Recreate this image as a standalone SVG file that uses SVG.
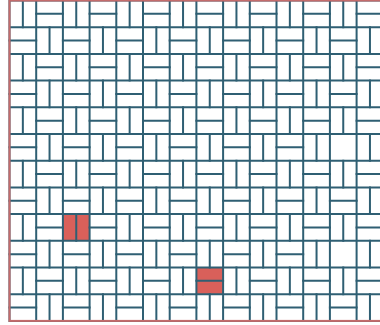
<svg xmlns="http://www.w3.org/2000/svg" width="380" height="325" viewBox="0 0 380 325">
<style>
.ln{fill:none;stroke:#2f5f73;stroke-width:2;vector-effect:non-scaling-stroke;stroke-linecap:square}
.hl{fill:#d9605a;stroke:none}
.border{fill:none;stroke:#c46b6b;stroke-width:2}
</style>
<rect width="380" height="325" fill="#ffffff"/>
<g id="weave" transform="translate(9.5 0.5) scale(13.35)">
<g id="highlights">
<rect class="hl" x="4" y="16" width="2" height="2"/>
<rect class="hl" x="14" y="20" width="2" height="2"/>
</g>
<g id="grid">
<path class="ln" d="M0 0H28M0 2H28M0 4H28M0 6H28M0 8H28M0 10H28M0 12H28M0 14H28M0 16H28M0 18H28M0 20H28M0 22H28M0 24H28M0 0V24M2 0V24M4 0V24M6 0V24M8 0V24M10 0V24M12 0V24M14 0V24M16 0V24M18 0V24M20 0V24M22 0V24M24 0V24M26 0V24M28 0V24"/>
</g>
<g id="dividers">
<path class="ln" d="M1 0v2M5 0v2M9 0v2M13 0v2M17 0v2M21 0v2M25 0v2M2 1h2M6 1h2M10 1h2M14 1h2M18 1h2M22 1h2M26 1h2
M3 2v2M7 2v2M11 2v2M15 2v2M19 2v2M23 2v2M27 2v2M0 3h2M4 3h2M8 3h2M12 3h2M16 3h2M20 3h2M24 3h2
M1 4v2M5 4v2M9 4v2M13 4v2M17 4v2M21 4v2M25 4v2M2 5h2M6 5h2M10 5h2M14 5h2M18 5h2M22 5h2M26 5h2
M3 6v2M7 6v2M11 6v2M15 6v2M19 6v2M23 6v2M27 6v2M0 7h2M4 7h2M8 7h2M12 7h2M16 7h2M20 7h2M24 7h2
M1 8v2M5 8v2M9 8v2M13 8v2M17 8v2M21 8v2M25 8v2M2 9h2M6 9h2M10 9h2M14 9h2M18 9h2M22 9h2M26 9h2
M3 10v2M7 10v2M11 10v2M15 10v2M19 10v2M23 10v2M27 10v2M0 11h2M4 11h2M8 11h2M12 11h2M16 11h2M20 11h2
M1 12v2M5 12v2M9 12v2M13 12v2M17 12v2M21 12v2M25 12v2M2 13h2M6 13h2M10 13h2M14 13h2M18 13h2M22 13h2M26 13h2
M3 14v2M7 14v2M11 14v2M15 14v2M19 14v2M23 14v2M27 14v2M0 15h2M4 15h2M8 15h2M12 15h2M16 15h2M20 15h2M24 15h2
M1 16v2M5 16v2M9 16v2M13 16v2M17 16v2M21 16v2M25 16v2M2 17h2M6 17h2M10 17h2M14 17h2M18 17h2M22 17h2M26 17h2
M3 18v2M7 18v2M11 18v2M15 18v2M19 18v2M23 18v2M27 18v2M0 19h2M4 19h2M8 19h2M12 19h2M16 19h2M20 19h2
M1 20v2M5 20v2M9 20v2M13 20v2M17 20v2M21 20v2M25 20v2M2 21h2M6 21h2M10 21h2M14 21h2M18 21h2M22 21h2M26 21h2
M3 22v2M7 22v2M11 22v2M15 22v2M19 22v2M23 22v2M27 22v2M0 23h2M4 23h2M8 23h2M12 23h2M16 23h2M20 23h2M24 23h2"/>
</g>
</g>
<rect class="border" x="9.5" y="0.5" width="373.8" height="320.4"/>
</svg>
